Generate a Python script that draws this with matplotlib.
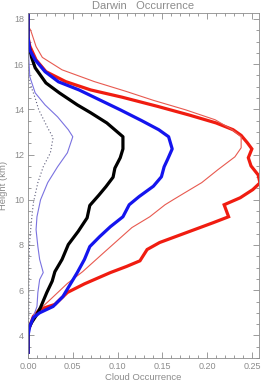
import matplotlib
matplotlib.use("Agg")
import matplotlib.pyplot as plt
from matplotlib.ticker import MultipleLocator

# height (km) and cloud occurrence for each profile
red_thick_h = [18.25, 17.2, 16.8, 16.19, 15.67, 15.23, 14.86, 14.54, 14.13, 13.75, 13.4, 13.1,
               12.85, 12.52, 12.25, 11.86, 11.5, 11.1, 10.75, 10.45, 10.09, 9.78, 9.25,
               8.99, 8.55, 8.11, 7.8, 7.3, 7.05, 6.78, 6.28, 5.9, 5.37, 5.15, 4.84, 4.4, 4.25, 3.25]
red_thick_x = [0.0, 0.0, 0.002, 0.009, 0.020, 0.042, 0.070, 0.105, 0.145, 0.180, 0.210, 0.229,
               0.238, 0.245, 0.250, 0.246, 0.249, 0.257, 0.259, 0.251, 0.237, 0.219, 0.224,
               0.207, 0.177, 0.147, 0.133, 0.125, 0.110, 0.092, 0.063, 0.044, 0.030, 0.013, 0.006, 0.002, 0.0, 0.0]

red_thin_h = [18.25, 17.7, 17.5, 16.78, 16.3, 15.75, 15.23, 14.79, 14.4, 13.98, 13.54, 13.1,
              12.79, 12.3, 11.9, 11.33, 10.76, 10.31, 10.0, 9.78, 9.25, 8.77, 7.71, 6.82,
              6.3, 5.59, 5.15, 4.84, 4.4, 4.25, 3.25]
red_thin_x = [0.0, 0.0, 0.003, 0.009, 0.016, 0.038, 0.074, 0.110, 0.140, 0.176, 0.209, 0.228,
              0.238, 0.238, 0.231, 0.212, 0.194, 0.175, 0.162, 0.153, 0.136, 0.116, 0.086, 0.061,
              0.044, 0.025, 0.013, 0.006, 0.002, 0.0, 0.0]

blue_thick_h = [18.25, 17.2, 16.63, 16.19, 15.67, 15.22, 14.86, 14.42, 13.98, 13.5, 13.1,
                12.79, 12.25, 11.8, 11.46, 11.02, 10.6, 10.14, 9.78, 9.25, 8.81, 8.37, 7.93,
                7.36, 6.78, 6.25, 5.72, 5.28, 5.0, 4.79, 4.4, 4.0, 3.25]
blue_thick_x = [0.0, 0.0, 0.002, 0.008, 0.019, 0.034, 0.057, 0.080, 0.103, 0.127, 0.146,
                0.157, 0.161, 0.156, 0.152, 0.149, 0.140, 0.124, 0.113, 0.106, 0.092, 0.080, 0.069,
                0.063, 0.055, 0.047, 0.039, 0.028, 0.013, 0.006, 0.002, 0.0, 0.0]

black_h = [18.25, 17.0, 16.3, 15.84, 15.17, 14.73, 14.2, 13.85, 13.4, 12.79, 12.25,
           11.86, 11.4, 11.0, 10.58, 10.2, 9.75, 9.2, 8.6, 8.02, 7.36, 6.82, 6.4, 5.9,
           5.24, 4.93, 4.57, 4.25, 3.25]
black_x = [0.0, 0.0, 0.004, 0.008, 0.020, 0.035, 0.055, 0.070, 0.088, 0.106, 0.106,
           0.103, 0.097, 0.095, 0.087, 0.079, 0.069, 0.066, 0.056, 0.045, 0.038, 0.030, 0.027, 0.021,
           0.014, 0.010, 0.004, 0.0, 0.0]

blue_thin_h = [18.25, 16.94, 15.44, 14.73, 14.2, 13.67, 13.1, 12.79, 12.08, 11.46, 10.76,
               10.0, 9.25, 8.68, 7.93, 7.36, 6.78, 6.47, 5.9, 5.28, 4.84, 4.4, 4.25, 3.25]
blue_thin_x = [0.0, 0.0, 0.002, 0.008, 0.019, 0.033, 0.045, 0.050, 0.044, 0.033, 0.022,
               0.014, 0.010, 0.009, 0.011, 0.013, 0.017, 0.013, 0.011, 0.010, 0.006, 0.002, 0.0, 0.0]

dotted_h = [18.25, 15.5, 15.17, 14.5, 13.98, 13.18, 12.75, 12.08, 11.46, 10.76, 9.87,
            9.12, 8.24, 7.36, 6.0, 4.8, 4.25, 3.25]
dotted_x = [0.0, 0.0, 0.002, 0.008, 0.012, 0.022, 0.028, 0.025, 0.017, 0.011, 0.006,
            0.004, 0.002, 0.001, 0.001, 0.001, 0.0, 0.0]

gray = "#8c8c8c"
plt.rcParams["font.family"] = ["Liberation Sans", "DejaVu Sans"]

fig = plt.figure(figsize=(2.63, 3.85), dpi=100)
ax = fig.add_axes([0.1065, 0.0701, 0.8785, 0.8959])

ax.plot(red_thick_x, red_thick_h, color="#f01c10", lw=2.3, solid_joinstyle="miter")
ax.plot(red_thin_x, red_thin_h, color="#e85a50", lw=0.8)
ax.plot(black_x, black_h, color="black", lw=2.3)
ax.plot(blue_thin_x, blue_thin_h, color="#7a72e0", lw=0.8)
ax.plot(dotted_x, dotted_h, color="#5a5a78", lw=0.8, ls=(0, (1, 2)))
ax.plot(blue_thick_x, blue_thick_h, color="#1414ee", lw=2.3)

ax.set_xlim(0, 0.258)
ax.set_ylim(3.0, 18.26)
ax.xaxis.set_major_locator(MultipleLocator(0.05))
ax.xaxis.set_minor_locator(MultipleLocator(0.01))
ax.yaxis.set_major_locator(MultipleLocator(2))
ax.yaxis.set_minor_locator(MultipleLocator(0.5))
ax.set_xticks([0, 0.05, 0.10, 0.15, 0.20, 0.25])
ax.set_xticklabels(["0.00", "0.05", "0.10", "0.15", "0.20", "0.25"])
ax.set_yticks([4, 6, 8, 10, 12, 14, 16, 18])

ax.tick_params(which="both", direction="in", top=True, right=True, colors=gray,
               labelsize=6.5, width=0.6, pad=3)
ax.tick_params(which="major", length=4.5)
ax.tick_params(which="minor", length=2.2)
for s in ax.spines.values():
    s.set_color(gray)
    s.set_linewidth(0.6)

ax.set_xlabel("Cloud Occurrence", color=gray, fontsize=6.8, labelpad=1)
ax.set_ylabel("Height (km)", color=gray, fontsize=6.8, labelpad=4)
ax.set_title("Darwin   Occurrence", color=gray, fontsize=8, pad=3)

fig.savefig("out.png", dpi=100)
